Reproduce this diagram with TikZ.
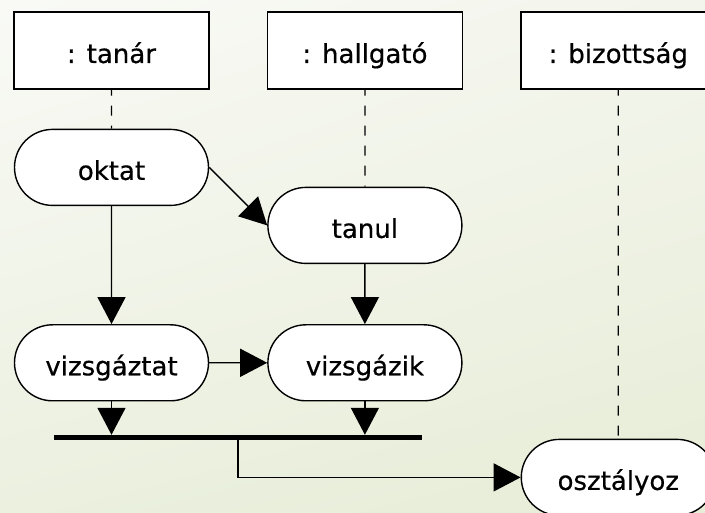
\documentclass[tikz,border=0pt]{standalone}
\usepackage{fontspec}
\setmainfont{DejaVu Sans}
\newfontfamily\diafont{DejaVu Sans}[FakeBold=0.5]
\usetikzlibrary{arrows.meta,positioning,shapes.misc,shadings}
\definecolor{bgtl}{RGB}{249,250,246}
\definecolor{bgtr}{RGB}{243,245,236}
\definecolor{bgbl}{RGB}{235,240,223}
\definecolor{bgbr}{RGB}{231,237,215}
\tikzset{
    %Define standard arrow tip
    >={Triangle[length=27pt,width=28pt]},
    % Define arrow style
    pil/.style={
           ->,
           line width=1.4pt,},
    % Define lifeline style
    lifeline/.style={
           line width=1.2pt,
           dash pattern=on 10pt off 10pt,
           dash phase=4pt,},
    % Define label text style
    labeltext/.style={
           font=\diafont\fontsize{26}{30}\selectfont,
           text height=27pt,
           text depth=2pt,}
}

\begin{document}
\begin{tikzpicture}[
x=1pt, y=-1pt,
objbox/.style={rectangle, draw=black, fill=white, line width=1.4pt, minimum width=195pt, minimum height=77pt, inner sep=0pt, labeltext},
roundnode/.style={rounded rectangle, draw=black, fill=white, line width=1.4pt, minimum width=194pt, minimum height=76pt, inner sep=0pt, labeltext},
syncbar/.style={rectangle, fill=black, minimum width=368pt, minimum height=5pt, inner sep=0pt},
]
\useasboundingbox (0,0) rectangle (705,513);
\shade[upper left=bgtl, upper right=bgtr, lower left=bgbl, lower right=bgbr] (0,0) rectangle (705,513);
\clip (0,0) rectangle (705,513);

%Nodes
\node[objbox](tanar) at (111.5,50.5){: tanár};
\node[objbox](hallgato)[right=57pt of tanar]{: hallgató};
\node[objbox](bizottsag)[right=57pt of hallgato]{: bizottság};

\node[roundnode](oktat)[below=39pt of tanar]{oktat};
\node[roundnode](tanul)[below=97pt of hallgato]{tanul};
\node[roundnode](vizsgaztat)[below=118pt of oktat]{vizsgáztat};
\node[roundnode](vizsgazik)[below=60pt of tanul]{vizsgázik};
\node[roundnode](osztalyoz)[below=349pt of bizottsag]{osztályoz};

\node[syncbar](sync) at (238,437.5){};

%Lifelines
\draw[lifeline] (tanar) -- (oktat);
\draw[lifeline] (hallgato) -- (tanul);
\draw[lifeline] (bizottsag) -- (osztalyoz);

%Flows
\path[pil] (oktat) edge (vizsgaztat);
\path[pil] (oktat.east) edge (tanul.west);
\path[pil] (tanul) edge (vizsgazik);
\path[pil] (vizsgaztat) edge (vizsgazik);
\path[pil] (vizsgaztat) edge (vizsgaztat |- sync.north);
\path[pil] (vizsgazik) edge (vizsgazik |- sync.north);
\draw[pil] (sync.south) |- (osztalyoz);

\end{tikzpicture}
\end{document}
